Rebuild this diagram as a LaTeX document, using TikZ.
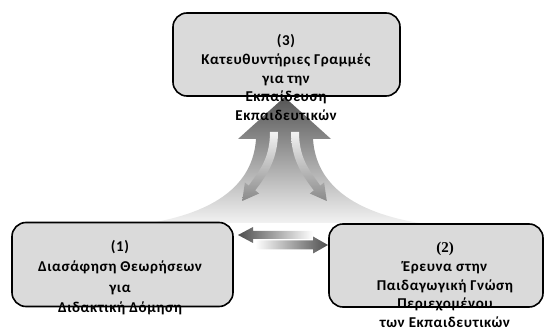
\documentclass[tikz,border=0pt]{standalone}
\usepackage{fontspec}
\setmainfont{Carlito}[LetterSpace=4]
\newfontfamily\numserif{Liberation Serif}
\definecolor{boxgray}{HTML}{DADADA}
\definecolor{flaredark}{HTML}{555555}
\definecolor{flaremid}{HTML}{A8A8A8}
\definecolor{flarelight}{HTML}{F2F2F2}
\definecolor{arrowdark}{HTML}{4E4E4E}
\definecolor{curvygray}{HTML}{828282}
\begin{document}
\begin{tikzpicture}[x=1pt,y=-1pt,
  box/.style={draw=black, line width=1.6pt, fill=boxgray, rounded corners=14pt},
  lbl/.style={font=\bfseries\fontsize{15}{18.7}\selectfont, align=center, inner sep=0pt, text=black},
  curvy/.style={top color=white, bottom color=curvygray, opacity=0.9}]
\useasboundingbox (0,0) rectangle (544,331);

% rising arrow with flared base
\shade[top color=flaredark, middle color=flaremid, bottom color=flarelight]
  (284.5,97) -- (331,139) -- (313,139)
  .. controls (316,185) and (354,212) .. (419,223)
  -- (150,223)
  .. controls (215,212) and (253,185) .. (256,139)
  -- (238,139) -- cycle;

% two light arrows curving down inside it
\shade[curvy]
  (270,132) .. controls (270,160) and (258,172) .. (248.8,185.6)
  -- (244.9,182.5) -- (242.2,201) -- (259.1,193.5) -- (255.2,190.4)
  .. controls (266,176) and (278,160) .. (278,132) -- cycle;
\begin{scope}[shift={(569,0)}, xscale=-1]
\shade[curvy]
  (270,132) .. controls (270,160) and (258,172) .. (248.8,185.6)
  -- (244.9,182.5) -- (242.2,201) -- (259.1,193.5) -- (255.2,190.4)
  .. controls (266,176) and (278,160) .. (278,132) -- cycle;
\end{scope}

% boxes
\node[box, minimum width=227pt, minimum height=83pt] (b3) at (286.5,54.5) {};
\node[box, minimum width=221pt, minimum height=84pt] (b1) at (122.5,264.5) {};
\node[box, minimum width=214pt, minimum height=83pt] (b2) at (436,265.5) {};

% arrows between boxes 1 and 2
\shade[left color=arrowdark, right color=white]
  (238,235) -- (253,227) -- (253,231) -- (313,231) -- (313,239)
  -- (253,239) -- (253,243) -- cycle;
\shade[left color=white, right color=arrowdark]
  (328,245) -- (313,236.5) -- (313,240.5) -- (255,240.5) -- (255,249.5)
  -- (313,249.5) -- (313,253.5) -- cycle;

% labels
\node[lbl] (t3) at (286,77.5) {(3)\\Κατευθυντήριες Γραμμές\\για την\\Εκπαίδευση\\Εκπαιδευτικών};
\node[lbl, font=\bfseries\fontsize{15}{20.5}\selectfont] (t1) at (120,277.5) {(1)\\Διασάφηση Θεωρήσεων\\για\\Διδακτική Δόμηση};
\node[lbl] (t2) at (445,285) {{\numserif (2)}\\Έρευνα στην\\Παιδαγωγική Γνώση\\Περιεχομένου\\των Εκπαιδευτικών};
\end{tikzpicture}
\end{document}
